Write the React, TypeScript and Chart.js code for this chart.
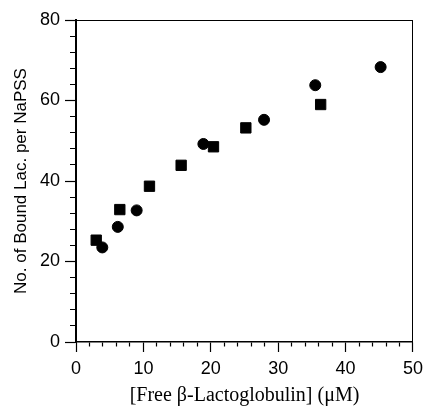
import React, { useEffect, useRef } from "react";
import { Chart, registerables } from "chart.js";

Chart.register(...registerables);

const circleX = [3.9, 6.2, 9.0, 18.9, 27.9, 35.5, 45.2];
const circleY = [23.5, 28.6, 32.7, 49.2, 55.2, 63.8, 68.3];
const squareX = [3.0, 6.5, 10.9, 15.6, 20.4, 25.2, 36.3];
const squareY = [25.3, 32.9, 38.7, 43.9, 48.5, 53.2, 59.0];

const xMin = 0, xMax = 50, xStep = 2, xLabelEvery = 10;
const yMin = 0, yMax = 80, yStep = 4, yLabelEvery = 20;
const xTitle = "[Free \u03B2-Lactoglobulin] (\u03BCM)";
const yTitle = "No. of Bound Lac. per NaPSS";

const toPoints = (xs: number[], ys: number[]) => xs.map((x, i) => ({ x, y: ys[i] }));

export default function App() {
  const ref = useRef<HTMLCanvasElement | null>(null);
  useEffect(() => {
    if (!ref.current) return;
    const sans = "'Liberation Sans', Arial, sans-serif";
    const serif = "'Liberation Serif', 'Times New Roman', serif";
    Chart.defaults.font.family = sans;
    Chart.defaults.color = "#000";
    const isMajor = (v: number, every: number) => Math.abs(v % every) < 1e-6;
    const chart = new Chart(ref.current, {
      type: "scatter",
      data: {
        datasets: [
          {
            label: "circles",
            data: toPoints(circleX, circleY),
            pointStyle: "circle",
            pointRadius: 5.5,
            borderWidth: 1,
            backgroundColor: "#000",
            borderColor: "#000",
          },
          {
            label: "squares",
            data: toPoints(squareX, squareY),
            pointStyle: "rect",
            pointRadius: 7.3,
            borderWidth: 1,
            backgroundColor: "#000",
            borderColor: "#000",
          },
        ],
      },
      options: {
        responsive: false,
        maintainAspectRatio: false,
        animation: false,
        events: [],
        layout: { padding: { top: 20, right: 15, bottom: 0, left: 0 } },
        plugins: { legend: { display: false }, tooltip: { enabled: false } },
        scales: {
          x: {
            type: "linear",
            position: "bottom",
            min: xMin,
            max: xMax,
            offset: false,
            afterFit: (s: any) => { s.height = 66; },
            border: { display: true, color: "#000", width: 1.5 },
            grid: {
              display: true,
              drawOnChartArea: false,
              drawTicks: true,
              tickLength: 10,
              tickColor: "#000",
              tickWidth: 1.2,
              tickBorderDash: (ctx: any) => (ctx.tick && isMajor(ctx.tick.value, xLabelEvery) ? [] : [4, 100]),
            },
            ticks: {
              stepSize: xStep,
              autoSkip: false,
              maxRotation: 0,
              padding: 6,
              color: "#000",
              font: { size: 18, family: sans },
              callback: (v: any) => (isMajor(Number(v), xLabelEvery) ? String(v) : ""),
            },
            title: {
              display: true,
              text: xTitle,
              color: "#000",
              font: { size: 20, family: serif },
              padding: { top: 0, bottom: 0 },
            },
          },
          y: {
            type: "linear",
            position: "left",
            min: yMin,
            max: yMax,
            afterFit: (s: any) => { s.width = 76; },
            border: { display: true, color: "#000", width: 2 },
            grid: {
              display: true,
              drawOnChartArea: false,
              drawTicks: true,
              tickLength: 11,
              tickColor: "#000",
              tickWidth: 1.2,
              tickBorderDash: (ctx: any) => (ctx.tick && isMajor(ctx.tick.value, yLabelEvery) ? [] : [0, 5, 6, 100]),
            },
            ticks: {
              stepSize: yStep,
              autoSkip: false,
              padding: 5,
              color: "#000",
              font: { size: 18, family: sans },
              callback: (v: any) => (isMajor(Number(v), yLabelEvery) ? String(v) : ""),
            },
            title: {
              display: true,
              text: yTitle,
              color: "#000",
              font: { size: 17, family: sans },
              padding: { top: 11, bottom: 0 },
            },
          },
          xTop: {
            type: "linear",
            position: "top",
            min: xMin,
            max: xMax,
            afterFit: (s: any) => { s.height = 0; },
            border: { display: true, color: "#000", width: 1 },
            grid: { display: false },
            ticks: { display: false },
          },
          yRight: {
            type: "linear",
            position: "right",
            min: yMin,
            max: yMax,
            afterFit: (s: any) => { s.width = 0; },
            border: { display: true, color: "#000", width: 1 },
            grid: { display: false },
            ticks: { display: false },
          },
        },
      } as any,
    });
    return () => chart.destroy();
  }, []);
  return (
    <div style={{ position: "absolute", left: 0, top: 0, width: 429, height: 408, background: "#fff" }}>
      <canvas ref={ref} width={429} height={408} style={{ width: 429, height: 408, display: "block" }} />
    </div>
  );
}
